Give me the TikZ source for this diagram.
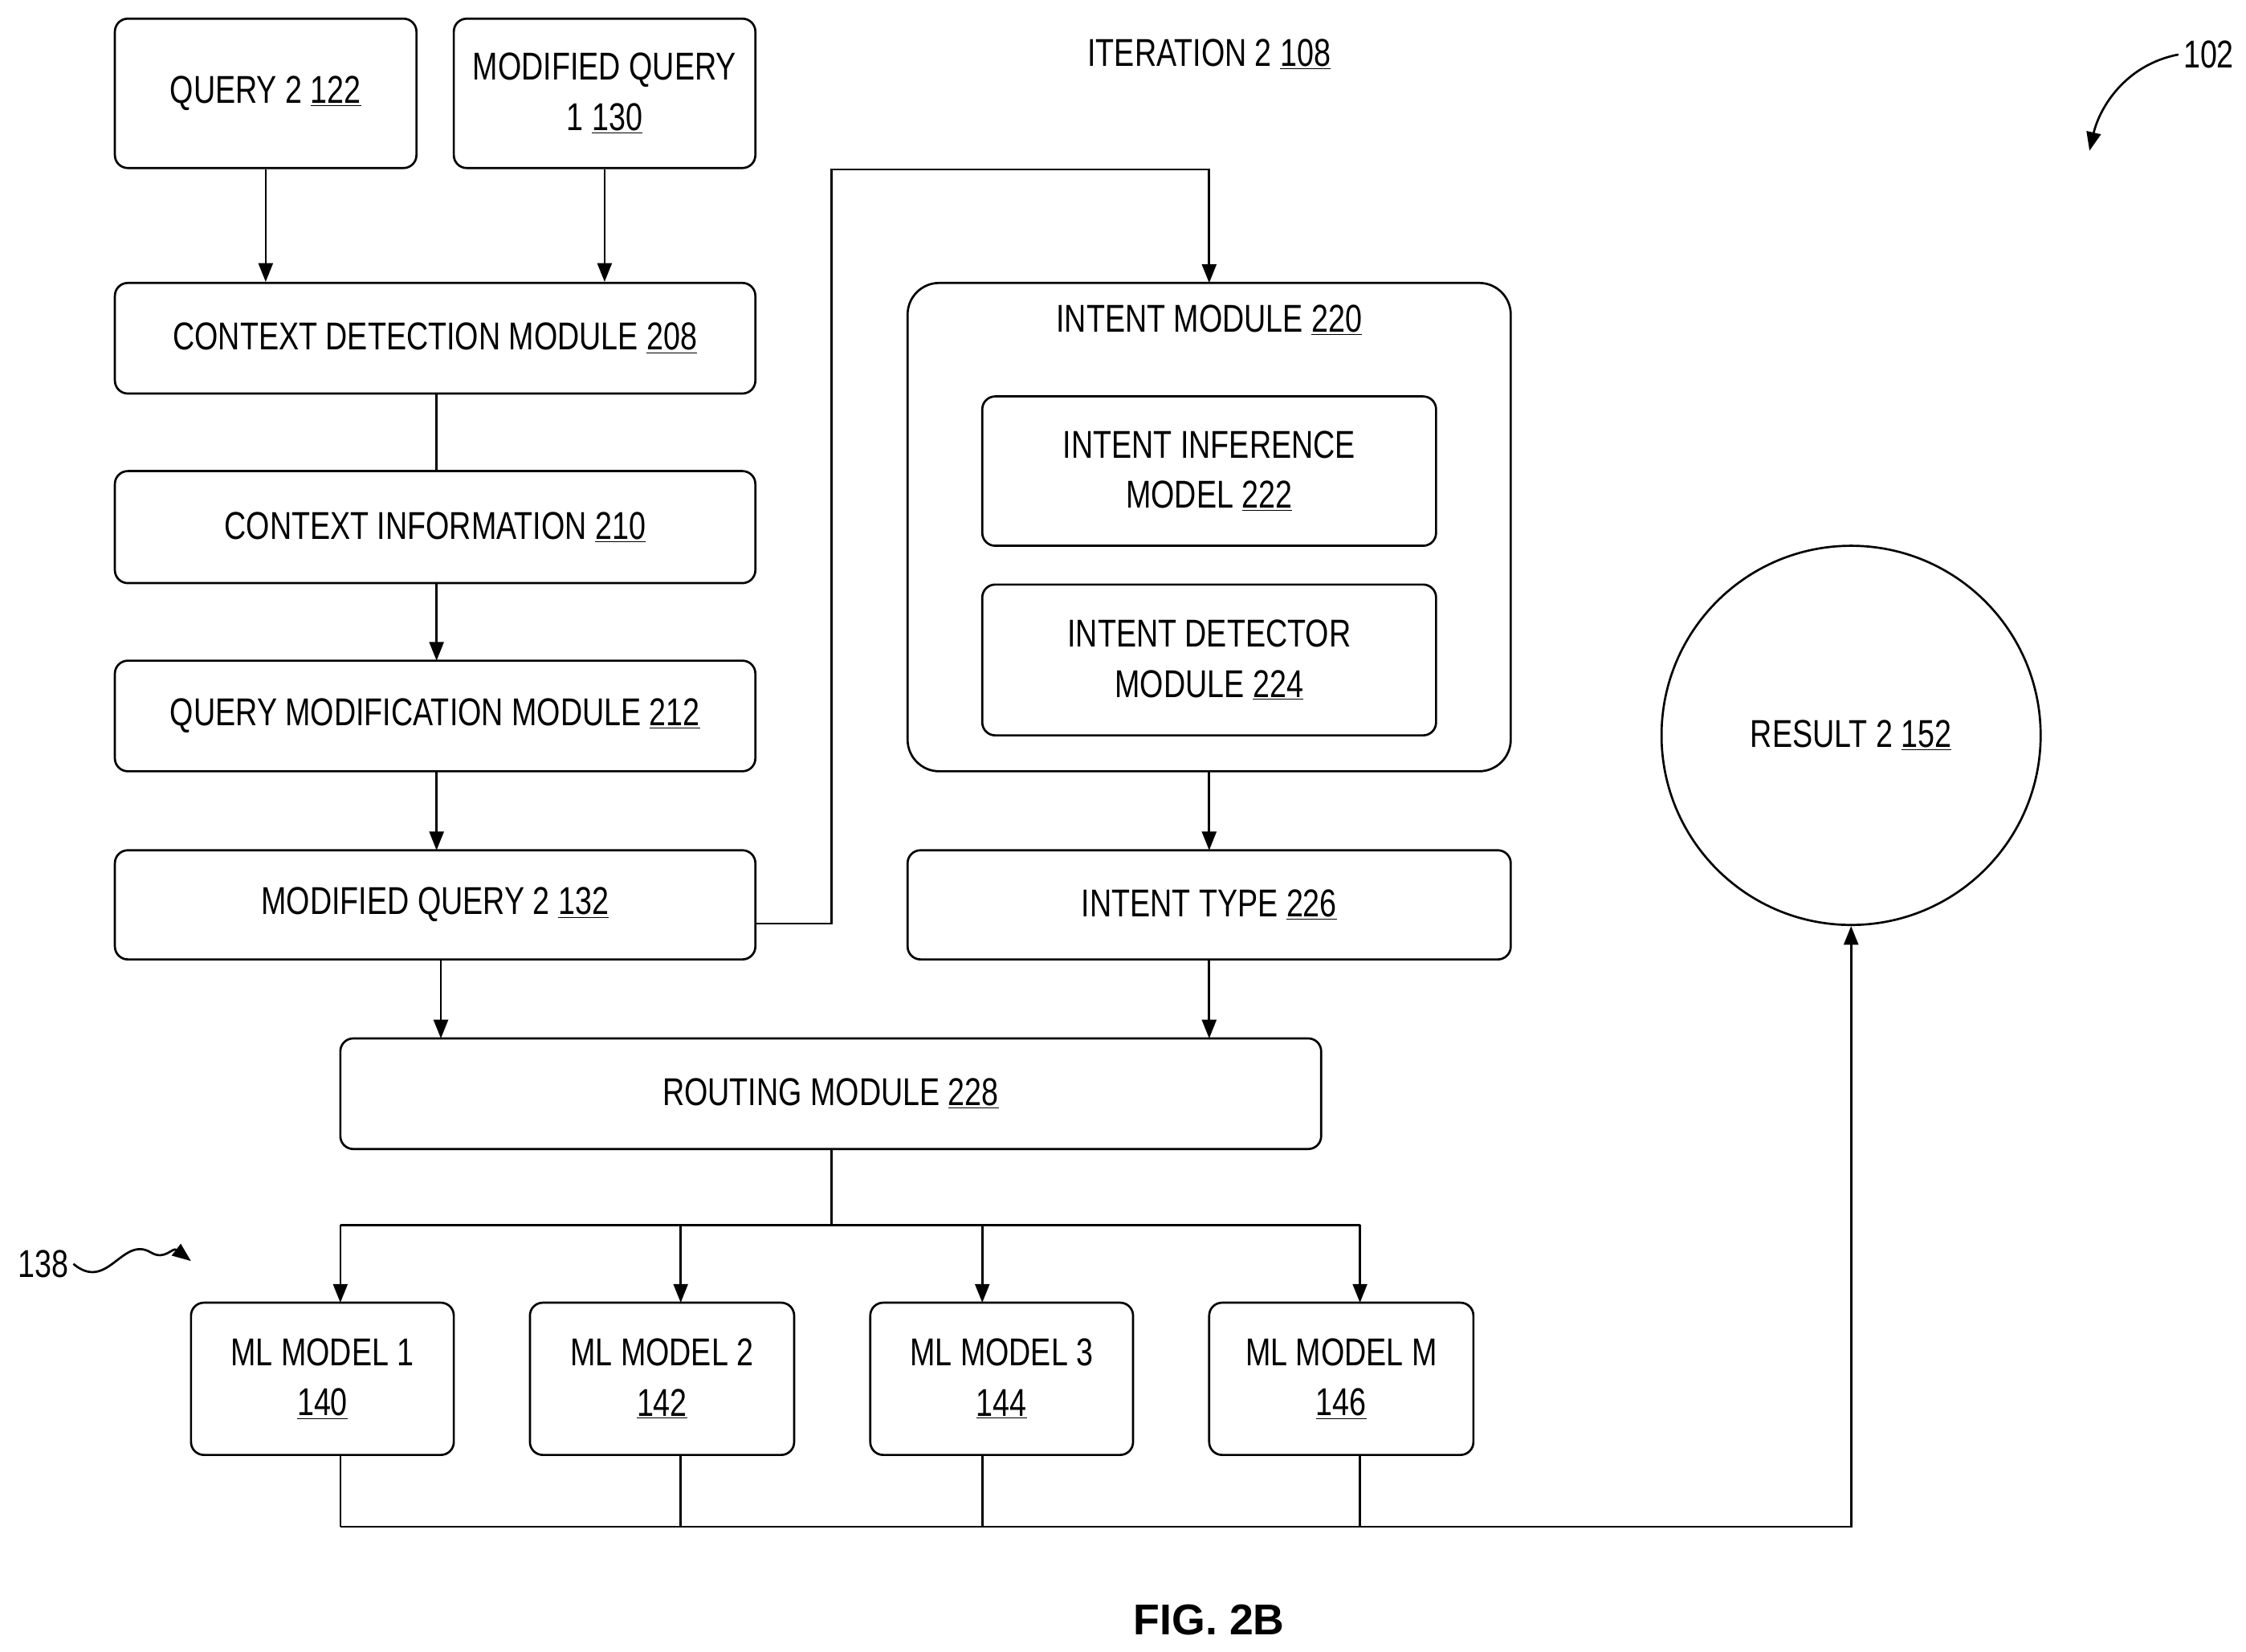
\documentclass[tikz,border=0pt]{standalone}
\usepackage{fontspec}
\setmainfont{Liberation Sans}[FakeStretch=0.78]
\newfontfamily\figfont{Liberation Sans}
\usetikzlibrary{arrows.meta,decorations.pathmorphing}
\begin{document}
\begin{tikzpicture}[x=1pt,y=-1pt,
 box/.style={draw,line width=1.5pt,rounded corners=9pt,align=center,font=\fontsize{27}{35}\selectfont},
 lbl/.style={font=\fontsize{27}{35}\selectfont,align=center},
 arr/.style={line width=1.5pt,-{Triangle[length=13pt,width=10pt]}},
 ln/.style={line width=1.5pt}]
\useasboundingbox (0,0) rectangle (1564,1150);
\newcommand{\bx}[6]{\node[box,minimum width=#4-#2,minimum height=#5-#3] (#1) at ({(#2+#4)/2},{(#3+#5)/2}) {#6};}
\bx{q2}{80}{13}{290}{117}{QUERY 2 \underline{122}}
\bx{mq1}{316}{13}{526}{117}{MODIFIED QUERY\\1 \underline{130}}
\bx{cd}{80}{197}{526}{274}{CONTEXT DETECTION MODULE \underline{208}}
\bx{ci}{80}{328}{526}{406}{CONTEXT INFORMATION \underline{210}}
\bx{qm}{80}{460}{526}{537}{QUERY MODIFICATION MODULE \underline{212}}
\bx{mq2}{80}{592}{526}{668}{MODIFIED QUERY 2 \underline{132}}
\node[draw,line width=1.5pt,rounded corners=22pt,minimum width=420,minimum height=340] (im) at (842,367) {};
\node[lbl] (imt) at (842,223) {INTENT MODULE \underline{220}};
\bx{iim}{684}{276}{1000}{380}{INTENT INFERENCE\\MODEL \underline{222}}
\bx{idm}{684}{407}{1000}{512}{INTENT DETECTOR\\MODULE \underline{224}}
\bx{it}{632}{592}{1052}{668}{INTENT TYPE \underline{226}}
\bx{rm}{237}{723}{920}{800}{ROUTING MODULE \underline{228}}
\bx{m1}{133}{907}{316}{1013}{ML MODEL 1\\\underline{140}}
\bx{m2}{369}{907}{553}{1013}{ML MODEL 2\\\underline{142}}
\bx{m3}{606}{907}{789}{1013}{ML MODEL 3\\\underline{144}}
\bx{mm}{842}{907}{1026}{1013}{ML MODEL M\\\underline{146}}
\node[draw,line width=1.5pt,circle,minimum size=264,lbl] (res) at (1289,512) {RESULT 2 \underline{152}};
\node[lbl] (iter) at (842,38) {ITERATION 2 \underline{108}};
\node[lbl] (n102) at (1538,38) {102};
\node[lbl] (n138) at (30,880) {138};
\node[font=\figfont\bfseries\fontsize{30}{36}\selectfont] (fig) at (842,1128) {FIG. 2B};
\coordinate (a102) at (1455,105);
\draw[arr] (n102.west) .. controls (1480,45) and (1462,75) .. (a102);
\coordinate (a138) at (133,878);
\draw[arr] (n138.east) .. controls (75,900) and (85,860) .. (105,872) .. controls (115,878) and (120,868) .. (a138);
\draw[arr] (q2.south) -- (q2.south|-cd.north);
\draw[arr] (mq1.south) -- (mq1.south|-cd.north);
\draw[ln] (304,274) -- (304,328);
\draw[arr] (304,406) -- (304,460);
\draw[arr] (304,537) -- (304,592);
\draw[arr] (307,668) -- (307,723);
\draw[arr] (842,668) -- (842,723);
\draw[arr] (842,537) -- (842,592);
\draw[arr] (526,643) -- (579,643) -- (579,118) -- (842,118) -- (842,197);
\draw[ln] (579,800) -- (579,853);
\draw[ln] (237,853) -- (947,853);
\foreach \x/\n in {237/m1,474/m2,684/m3,947/mm}{
  \draw[arr] (\x,853) -- (\x,907);
  \draw[ln] (\x,1013) -- (\x,1063);}
\draw[arr] (237,1063) -- (1289,1063) -- (res.south);
\end{tikzpicture}
\end{document}
